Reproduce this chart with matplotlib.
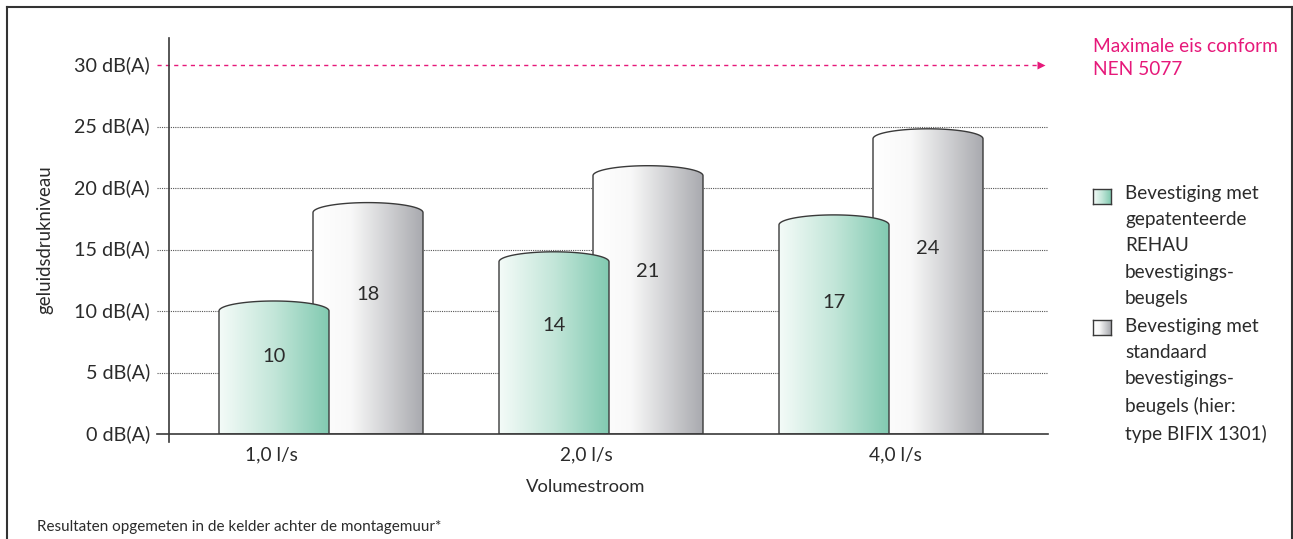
import numpy as np
import matplotlib
matplotlib.use("Agg")
import matplotlib.pyplot as plt
from matplotlib.path import Path
from matplotlib.patches import PathPatch
from matplotlib.colors import LinearSegmentedColormap
from matplotlib.lines import Line2D
import matplotlib.transforms as mtransforms

# ---------------- data ----------------
categories = ['1,0 l/s', '2,0 l/s', '4,0 l/s']
rehau = [10, 14, 17]
standard = [18, 21, 24]
yticks = [0, 5, 10, 15, 20, 25, 30]
ytick_labels = [f'{v} dB(A)' for v in yticks]
max_level = 30
max_label = 'Maximale eis conform\nNEN 5077'
series_labels = ['Bevestiging met\ngepatenteerde\nREHAU\nbevestigings-\nbeugels',
                 'Bevestiging met\nstandaard\nbevestigings-\nbeugels (hier:\ntype BIFIX 1301)']
ylabel = 'geluidsdrukniveau'
xlabel = 'Volumestroom'
footnote = 'Resultaten opgemeten in de kelder achter de montagemuur*'

# ---------------- style ----------------
plt.rcParams['font.family'] = ['Lato', 'DejaVu Sans']
TXT = '#2b2b2b'
PINK = '#e6197a'
EDGE = '#3a3a3a'
green_cmap = LinearSegmentedColormap.from_list('g', [(0, '#f4fbf8'), (0.5, '#c3e6d9'), (1, '#82cab1')])
grey_cmap = LinearSegmentedColormap.from_list('k', [(0, '#ffffff'), (0.35, '#f8f8f8'), (1, '#a9aaaf')])

W, H = 1293, 539
fig = plt.figure(figsize=(W / 100, H / 100), dpi=100)


def fx(px):
    return px / W


def fy(py):
    return 1 - py / H


# outer frame
for xs, ys in [([7, 7], [H + 5, 7]), ([7, 1291.5], [7, 7]), ([1291.5, 1291.5], [7, H + 5])]:
    fig.add_artist(Line2D([fx(x) for x in xs], [fy(y) for y in ys], color='#333333', lw=1.5))

ax_left, ax_right, ax_bottom, ax_top = 169, 1048, 434, 38
ax = fig.add_axes([fx(ax_left), fy(ax_bottom), fx(ax_right) - fx(ax_left), fy(ax_top) - fy(ax_bottom)])
px_per_db = 12.3
ymax = (ax_bottom - ax_top) / px_per_db
unit = 280.0
xlim = (-152 / unit, (ax_right - ax_left - 152) / unit)
ax.axis('off')

blend = mtransforms.blended_transform_factory(ax.transAxes, ax.transData)
gx0 = (157 - ax_left) / (ax_right - ax_left)

# gridlines
for v in yticks[1:-1]:
    ax.plot([gx0, 1.0], [v, v], transform=blend, color='#555555', lw=0.8,
            ls=(0, (1, 1)), zorder=1, clip_on=False)
# baseline
ax.plot([gx0, 1.0], [0, 0], transform=blend, color=EDGE, lw=1.2, zorder=5, clip_on=False)
# y axis line
ax.plot([0, 0], [-8 / (ax_bottom - ax_top), 1.0], transform=ax.transAxes, color=EDGE,
        lw=1.2, zorder=5, clip_on=False)
# max line
arrow_end = (1045 - ax_left) / (ax_right - ax_left)
ax.plot([gx0, arrow_end - 0.006], [max_level, max_level], transform=blend, color=PINK, lw=1.0,
        ls=(0, (3, 3)), zorder=1, clip_on=False)
ax.plot([arrow_end - 0.004], [max_level], transform=blend, marker='>', color=PINK, ms=6,
        mec='none', clip_on=False, zorder=1)

# tick labels
ytrans = mtransforms.blended_transform_factory(fig.transFigure, ax.transData)
for v, lab in zip(yticks, ytick_labels):
    ax.text(fx(150), v, lab, transform=ytrans, ha='right', va='center', fontsize=14.2, color=TXT)

# cylinders
bar_w = 110 / unit
offset = 47 / unit
cap = 10 / px_per_db


def cylinder(xc, v, cmap, z):
    x0, x1 = xc - bar_w / 2, xc + bar_w / 2
    t = np.linspace(np.pi, 0, 80)
    arc = np.column_stack([xc + (bar_w / 2) * np.cos(t), v + cap * np.sin(t)])
    verts = np.vstack([[x0, 0], arc, [x1, 0], [x0, 0]])
    codes = [Path.MOVETO] + [Path.LINETO] * (len(verts) - 2) + [Path.CLOSEPOLY]
    path = Path(verts, codes)
    clip = PathPatch(path, transform=ax.transData, facecolor='none', edgecolor='none')
    grad = np.linspace(0, 1, 256).reshape(1, -1)
    im = ax.imshow(grad, cmap=cmap, extent=[x0, x1, 0, v + cap], aspect='auto',
                   interpolation='bilinear', zorder=z)
    im.set_clip_path(clip)
    ax.add_patch(PathPatch(path, facecolor='none', edgecolor=EDGE, lw=1.0, zorder=z + 0.1))


label_frac = 0.63
for i, (g, s) in enumerate(zip(rehau, standard)):
    cylinder(i + offset, s, grey_cmap, 2)
    cylinder(i - offset, g, green_cmap, 3)
    ax.text(i - offset, g * label_frac, str(g), ha='center', va='center', fontsize=14.5, color=TXT, zorder=4)
    ax.text(i + offset, s * label_frac, str(s), ha='center', va='center', fontsize=14.5, color=TXT, zorder=4)

ax.set_xlim(*xlim)
ax.set_ylim(0, ymax)

# category labels
for cx, lab in zip([271, 586, 895], categories):
    fig.text(fx(cx), fy(455), lab, ha='center', va='center', fontsize=13.8, color=TXT)

fig.text(fx(586), fy(487), xlabel, ha='center', va='center', fontsize=13.2, color=TXT)
fig.text(fx(45), fy(240), ylabel, ha='center', va='center', rotation=90, fontsize=13.4, color=TXT)
fig.text(fx(37), fy(527), footnote, ha='left', va='center', fontsize=11.0, color=TXT)

# max label
fig.text(fx(1093), fy(38), max_label, ha='left', va='top', fontsize=13.8, color=PINK, linespacing=1.45)

# legend
for (py, cmap, lab) in [(189, green_cmap, series_labels[0]), (320, grey_cmap, series_labels[1])]:
    lax = fig.add_axes([fx(1093), fy(py + 15), fx(18), fy(0) - fy(15)])
    lax.imshow(np.linspace(0, 1, 64).reshape(1, -1), cmap=cmap, aspect='auto', extent=[0, 1, 0, 1])
    lax.set_xticks([])
    lax.set_yticks([])
    for sp in lax.spines.values():
        sp.set_color(EDGE)
        sp.set_linewidth(1.0)
    fig.text(fx(1125), fy(py - 4 if py < 300 else py - 2), lab, ha='left', va='top', fontsize=13.6,
             color=TXT, linespacing=1.66)

fig.savefig('out.png', dpi=100)
